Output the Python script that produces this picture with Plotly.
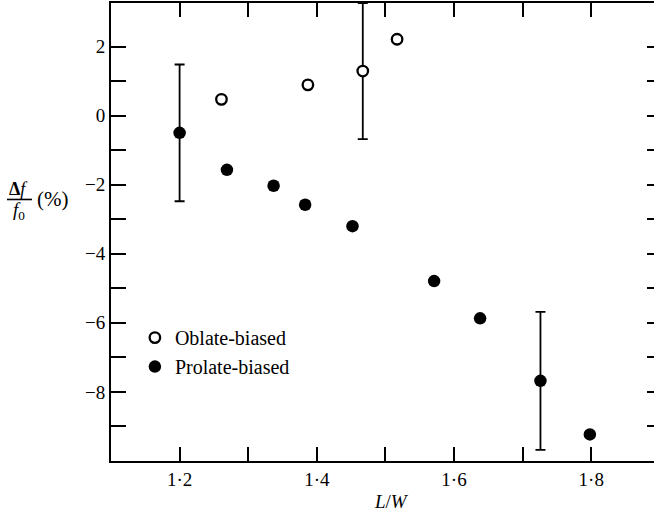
import plotly.graph_objects as go

# ---- data ----
lw_oblate = [1.261, 1.387, 1.467, 1.517]
df_oblate = [0.47, 0.89, 1.29, 2.21]
err_oblate = [0, 0, 1.97, 0]

lw_prolate = [1.200, 1.269, 1.337, 1.383, 1.452, 1.571, 1.638, 1.726, 1.798]
df_prolate = [-0.50, -1.57, -2.03, -2.58, -3.20, -4.79, -5.87, -7.68, -9.23]
err_prolate = [1.98, 0, 0, 0, 0, 0, 0, 2.0, 0]

x_tickvals = [1.2, 1.3, 1.4, 1.5, 1.6, 1.7, 1.8]
x_ticktext = ["1·2", "", "1·4", "", "1·6", "", "1·8"]
y_tickvals = [-9, -8, -7, -6, -5, -4, -3, -2, -1, 0, 1, 2]
y_ticktext = ["", "−8", "", "−6", "", "−4", "", "−2", "", "0", "", "2"]

FONT = "Liberation Serif"
Y_RANGE = [-10, 3.26]

fig = go.Figure()
# oblate series lives on the (identical) right-hand axis so that its ticks are drawn
fig.add_trace(go.Scatter(
    x=lw_oblate, y=df_oblate, mode="markers", name="Oblate-biased",
    yaxis="y2",
    marker=dict(symbol="circle", size=10.5, color="white",
                line=dict(color="black", width=2.3)),
    error_y=dict(type="data", array=err_oblate, color="black",
                 thickness=1.8, width=5),
    legendgroup="a",
))
fig.add_trace(go.Scatter(
    x=lw_prolate, y=df_prolate, mode="markers", name="Prolate-biased",
    marker=dict(symbol="circle", size=12.5, color="black",
                line=dict(color="black", width=0)),
    error_y=dict(type="data", array=err_prolate, color="black",
                 thickness=1.8, width=5),
    legendgroup="b",
))

fig.update_layout(
    width=654, height=517,
    margin=dict(l=111, r=0, t=3, b=56),
    paper_bgcolor="white", plot_bgcolor="white",
    font=dict(family=FONT, color="black", size=19),
    showlegend=True,
    legend=dict(x=0.044, y=0.312, xanchor="left", yanchor="top",
                bgcolor="rgba(0,0,0,0)", font=dict(size=20, family=FONT),
                tracegroupgap=0, traceorder="normal"),
    xaxis=dict(range=[1.1, 1.8915], tickvals=x_tickvals, ticktext=x_ticktext,
               ticks="inside", ticklen=14, tickwidth=1.6, tickcolor="black",
               showline=True, linewidth=2, linecolor="black", mirror="ticks",
               showgrid=False, zeroline=False,
               tickfont=dict(size=19, family=FONT)),
    yaxis=dict(range=Y_RANGE, tickvals=y_tickvals, ticktext=y_ticktext,
               ticks="inside", ticklen=15, tickwidth=1.6, tickcolor="black",
               showline=True, linewidth=2, linecolor="black", mirror=False,
               showgrid=False, zeroline=False,
               tickfont=dict(size=19, family=FONT)),
    yaxis2=dict(range=Y_RANGE, tickvals=y_tickvals, overlaying="y",
                side="right", anchor="x", ticks="inside", ticklen=7,
                tickwidth=1.6, tickcolor="black", showticklabels=False,
                showline=False, showgrid=False, zeroline=False),
)

# axis titles
fig.add_annotation(text="<i>L</i>/<i>W</i>", xref="paper", yref="paper",
                   x=0.517, y=-0.0895, xanchor="center", yanchor="middle",
                   showarrow=False, font=dict(size=19, family=FONT))
fig.add_annotation(text="<b>Δ</b><i>f</i>", xref="paper", yref="paper",
                   x=-0.171, y=0.5939, xanchor="center", yanchor="middle",
                   showarrow=False, font=dict(size=18, family=FONT))
fig.add_annotation(text="<i>f</i><sub>0</sub>", xref="paper", yref="paper",
                   x=-0.169, y=0.5455, xanchor="center", yanchor="middle",
                   showarrow=False, font=dict(size=19, family=FONT))
fig.add_annotation(text="(%)", xref="paper", yref="paper",
                   x=-0.1077, y=0.571, xanchor="center", yanchor="middle",
                   showarrow=False, font=dict(size=21, family=FONT))
fig.add_shape(type="line", xref="paper", yref="paper",
              x0=-0.1915, x1=-0.1455, y0=0.571, y1=0.571,
              line=dict(color="black", width=1.6))

fig.write_html("out.html")
